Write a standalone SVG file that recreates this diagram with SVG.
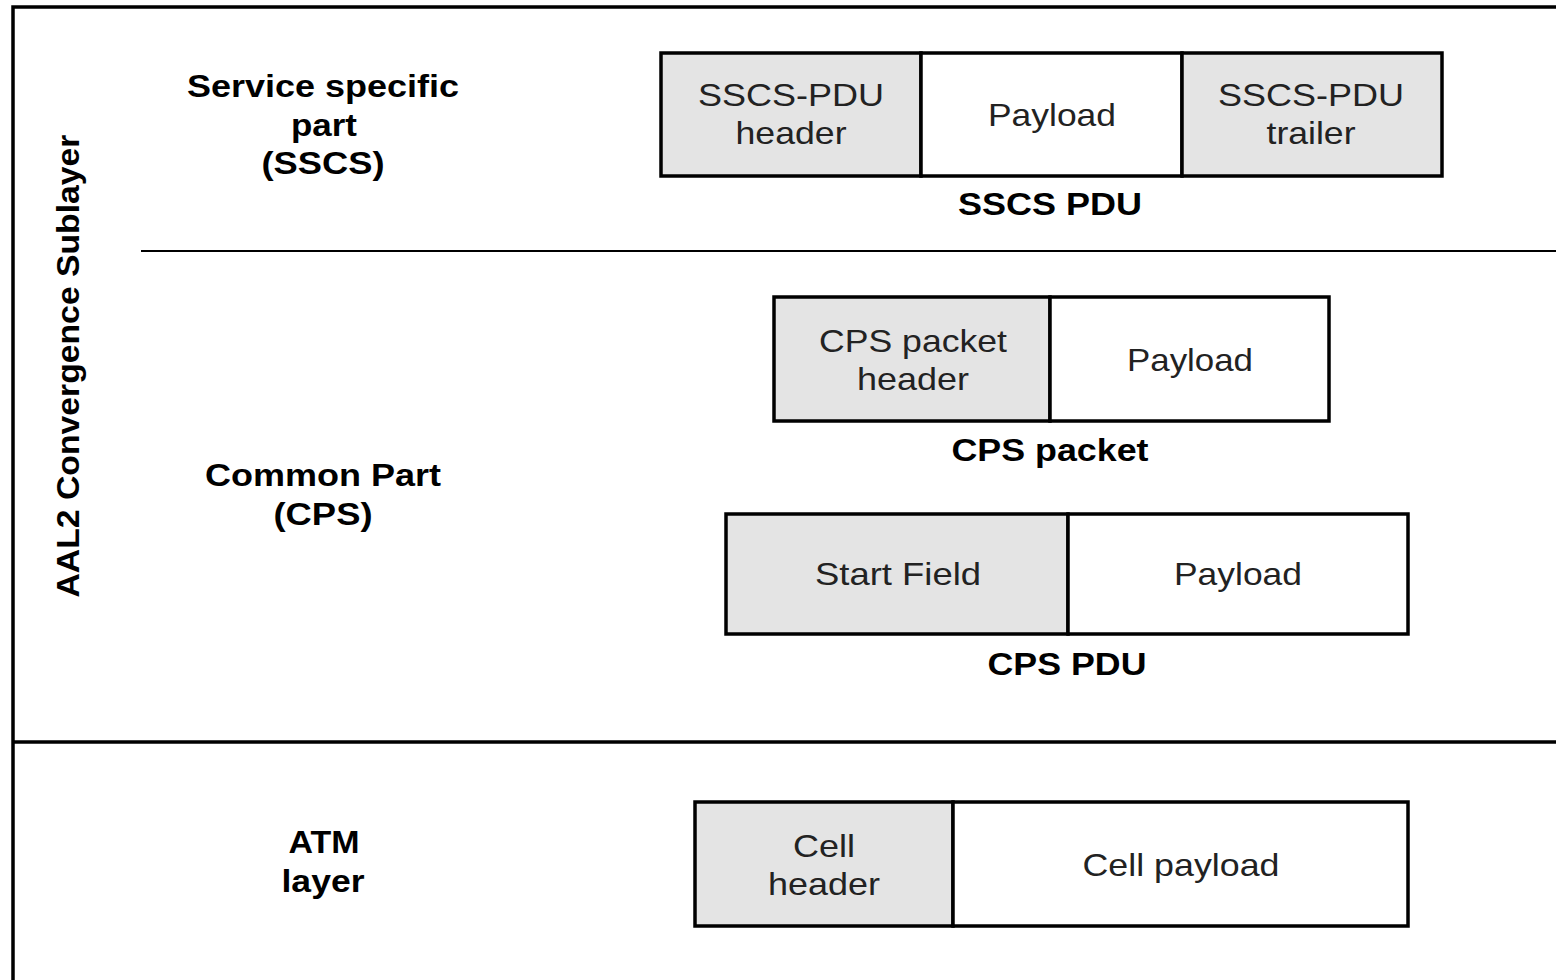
<svg xmlns="http://www.w3.org/2000/svg" width="1556" height="980" viewBox="0 0 1556 980">
  <style>
    .frame { stroke: #000; stroke-width: 3.5; fill: none; }
    .thin { stroke: #000; stroke-width: 1.8; fill: none; }
    .hdr { fill: #e4e4e4; stroke: #000; stroke-width: 3.5; }
    .pay { fill: #fff; stroke: #000; stroke-width: 3.5; }
    .t { font-family: "Liberation Sans", Arial, sans-serif; font-size: 32px; fill: #222; text-anchor: middle; }
    .b { font-family: "Liberation Sans", Arial, sans-serif; font-size: 31px; font-weight: bold; fill: #000; text-anchor: middle; }
  </style>
  <rect width="1556" height="980" fill="#fff"/>

  <!-- layer frame -->
  <g id="frame">
    <path class="frame" d="M13,980 V7 H1556"/>
    <line class="thin" x1="141" y1="251" x2="1556" y2="251"/>
    <line class="frame" x1="13" y1="742" x2="1556" y2="742"/>
  </g>

  <!-- layer labels -->
  <g id="labels">
    <text class="b" transform="translate(79,366) rotate(-90)" textLength="463" lengthAdjust="spacingAndGlyphs">AAL2 Convergence Sublayer</text>
    <text class="b" x="323" y="97" textLength="272" lengthAdjust="spacingAndGlyphs">Service specific</text>
    <text class="b" x="324" y="136" textLength="66" lengthAdjust="spacingAndGlyphs">part</text>
    <text class="b" x="323" y="174" textLength="123" lengthAdjust="spacingAndGlyphs">(SSCS)</text>
    <text class="b" x="323" y="486" textLength="236" lengthAdjust="spacingAndGlyphs">Common Part</text>
    <text class="b" x="323" y="525" textLength="99" lengthAdjust="spacingAndGlyphs">(CPS)</text>
    <text class="b" x="324" y="853" textLength="71" lengthAdjust="spacingAndGlyphs">ATM</text>
    <text class="b" x="323" y="892" textLength="83" lengthAdjust="spacingAndGlyphs">layer</text>
  </g>

  <!-- SSCS PDU -->
  <g id="sscs-pdu">
    <rect class="hdr" x="661" y="53" width="260" height="123"/>
    <rect class="pay" x="921" y="53" width="261" height="123"/>
    <rect class="hdr" x="1182" y="53" width="260" height="123"/>
    <text class="t" x="791" y="106" textLength="186" lengthAdjust="spacingAndGlyphs">SSCS-PDU</text>
    <text class="t" x="791" y="144" textLength="111" lengthAdjust="spacingAndGlyphs">header</text>
    <text class="t" x="1052" y="126" textLength="128" lengthAdjust="spacingAndGlyphs">Payload</text>
    <text class="t" x="1311" y="106" textLength="186" lengthAdjust="spacingAndGlyphs">SSCS-PDU</text>
    <text class="t" x="1311" y="144" textLength="89" lengthAdjust="spacingAndGlyphs">trailer</text>
    <text class="b" x="1050" y="215" textLength="184" lengthAdjust="spacingAndGlyphs">SSCS PDU</text>
  </g>

  <!-- CPS packet -->
  <g id="cps-packet">
    <rect class="hdr" x="774" y="297" width="276" height="124"/>
    <rect class="pay" x="1050" y="297" width="279" height="124"/>
    <text class="t" x="913" y="352" textLength="188" lengthAdjust="spacingAndGlyphs">CPS packet</text>
    <text class="t" x="913" y="390" textLength="112" lengthAdjust="spacingAndGlyphs">header</text>
    <text class="t" x="1190" y="371" textLength="126" lengthAdjust="spacingAndGlyphs">Payload</text>
    <text class="b" x="1050" y="461" textLength="197" lengthAdjust="spacingAndGlyphs">CPS packet</text>
  </g>

  <!-- CPS PDU -->
  <g id="cps-pdu">
    <rect class="hdr" x="726" y="514" width="342" height="120"/>
    <rect class="pay" x="1068" y="514" width="340" height="120"/>
    <text class="t" x="898" y="585" textLength="166" lengthAdjust="spacingAndGlyphs">Start Field</text>
    <text class="t" x="1238" y="585" textLength="128" lengthAdjust="spacingAndGlyphs">Payload</text>
    <text class="b" x="1067" y="675" textLength="159" lengthAdjust="spacingAndGlyphs">CPS PDU</text>
  </g>

  <!-- ATM cell -->
  <g id="atm-cell">
    <rect class="hdr" x="695" y="802" width="258" height="124"/>
    <rect class="pay" x="953" y="802" width="455" height="124"/>
    <text class="t" x="824" y="857" textLength="62" lengthAdjust="spacingAndGlyphs">Cell</text>
    <text class="t" x="824" y="895" textLength="112" lengthAdjust="spacingAndGlyphs">header</text>
    <text class="t" x="1181" y="876" textLength="197" lengthAdjust="spacingAndGlyphs">Cell payload</text>
  </g>

  <!-- no connectors in this figure -->
  <g id="connectors"/>
</svg>
